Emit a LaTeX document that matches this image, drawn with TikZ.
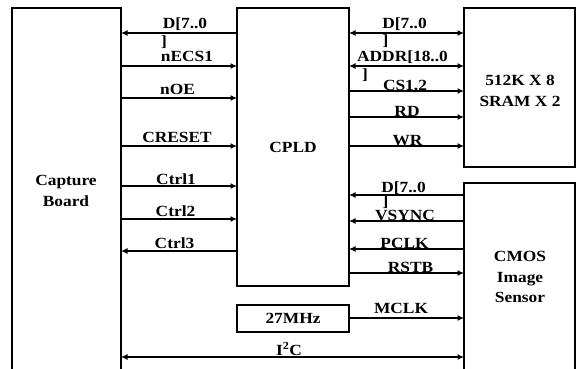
\documentclass[tikz,border=0pt]{standalone}
\usepackage{fontspec}
\setmainfont[FakeStretch=1.12]{Liberation Serif}
\usetikzlibrary{arrows.meta}
\tikzset{
  box/.style={draw, line width=2.2pt},
  sig/.style={line width=2pt, -{Latex[length=6.5pt,width=6pt]}},
  bsig/.style={line width=2pt, {Latex[length=6.5pt,width=6pt]}-{Latex[length=6.5pt,width=6pt]}},
  lab/.style={anchor=base, inner sep=0pt, font=\fontsize{15.5}{18}\selectfont\bfseries},
  blab/.style={align=center, inner sep=0pt, font=\fontsize{15.5}{20.5}\selectfont\bfseries},
}
\begin{document}
\begin{tikzpicture}[x=1pt,y=-1pt]
\useasboundingbox (0,0) rectangle (578,369);
\begin{scope}
\clip (0,0) rectangle (578,369);
% boxes
\draw[box] (12,8) rectangle (121,380);
\draw[box] (237,8) rectangle (349,286);
\draw[box] (464,8) rectangle (575,167);
\draw[box] (464,183) rectangle (575,380);
\draw[box] (237,305) rectangle (349,332);
\end{scope}
\node[blab] (cap) at (66,191) {Capture\\Board};
\node[blab] (cpld) at (293,147) {CPLD};
\node[blab] (sram) at (520,91) {512K X 8\\SRAM X 2};
\node[blab] (cmos) at (520,277) {CMOS\\Image\\Sensor};
\node[blab] (osc) at (293,318.5) {27MHz};
% coordinates on box edges
\foreach \n/\y in {a/33,b/66,c/98,d/146,e/186,f/219,g/251,i/357}{
  \coordinate (L\n) at (121,\y);
  \coordinate (C\n) at (237,\y);
}
\foreach \n/\y in {a/33,b/66,c/91,d/117,e/146,f/195,g/221,h/249,k/273}{
  \coordinate (R\n) at (349,\y);
  \coordinate (S\n) at (464,\y);
}
\coordinate (Mo) at (349,318);
\coordinate (Mi) at (464,318);
\coordinate (Ii) at (464,357);
% left signals
\draw[sig] (Ca) -- (La);
\draw[sig] (Lb) -- (Cb);
\draw[sig] (Lc) -- (Cc);
\draw[sig] (Ld) -- (Cd);
\draw[sig] (Le) -- (Ce);
\draw[sig] (Lf) -- (Cf);
\draw[sig] (Cg) -- (Lg);
\draw[bsig] (Li) -- (Ii);
% right signals
\draw[bsig] (Ra) -- (Sa);
\draw[bsig] (Rb) -- (Sb);
\draw[sig] (Rc) -- (Sc);
\draw[sig] (Rd) -- (Sd);
\draw[sig] (Re) -- (Se);
\draw[sig] (Sf) -- (Rf);
\draw[sig] (Sg) -- (Rg);
\draw[sig] (Sh) -- (Rh);
\draw[sig] (Rk) -- (Sk);
\draw[sig] (Mo) -- (Mi);
% labels left
\node[lab] (l1) at (185,29) {D[7..0};
\node[lab] (l1b) at (164,47) {]};
\node[lab] (l2) at (187,62) {nECS1};
\node[lab] (l3) at (177.5,94) {nOE};
\node[lab] (l4) at (177,142) {CRESET};
\node[lab] (l5) at (176,184) {Ctrl1};
\node[lab] (l6) at (175.5,216) {Ctrl2};
\node[lab] (l7) at (174.5,248) {Ctrl3};
\node[lab] (l8) at (289,355) {I\textsuperscript{2}C};
% labels right
\node[lab] (r1) at (404.5,29) {D[7..0};
\node[lab] (r1b) at (385.5,46) {]};
\node[lab] (r2) at (402.5,62) {ADDR[18..0};
\node[lab] (r2b) at (365,80) {]};
\node[lab] (r3) at (405,90) {CS1,2};
\node[lab] (r4) at (407,116) {RD};
\node[lab] (r5) at (407.5,145) {WR};
\node[lab] (r6) at (403.5,192) {D[7..0};
\node[lab] (r6b) at (385.5,206) {]};
\node[lab] (r7) at (405,220) {VSYNC};
\node[lab] (r8) at (404.5,248) {PCLK};
\node[lab] (r9) at (410.5,272) {RSTB};
\node[lab] (r10) at (401,313) {MCLK};
\end{tikzpicture}
\end{document}
